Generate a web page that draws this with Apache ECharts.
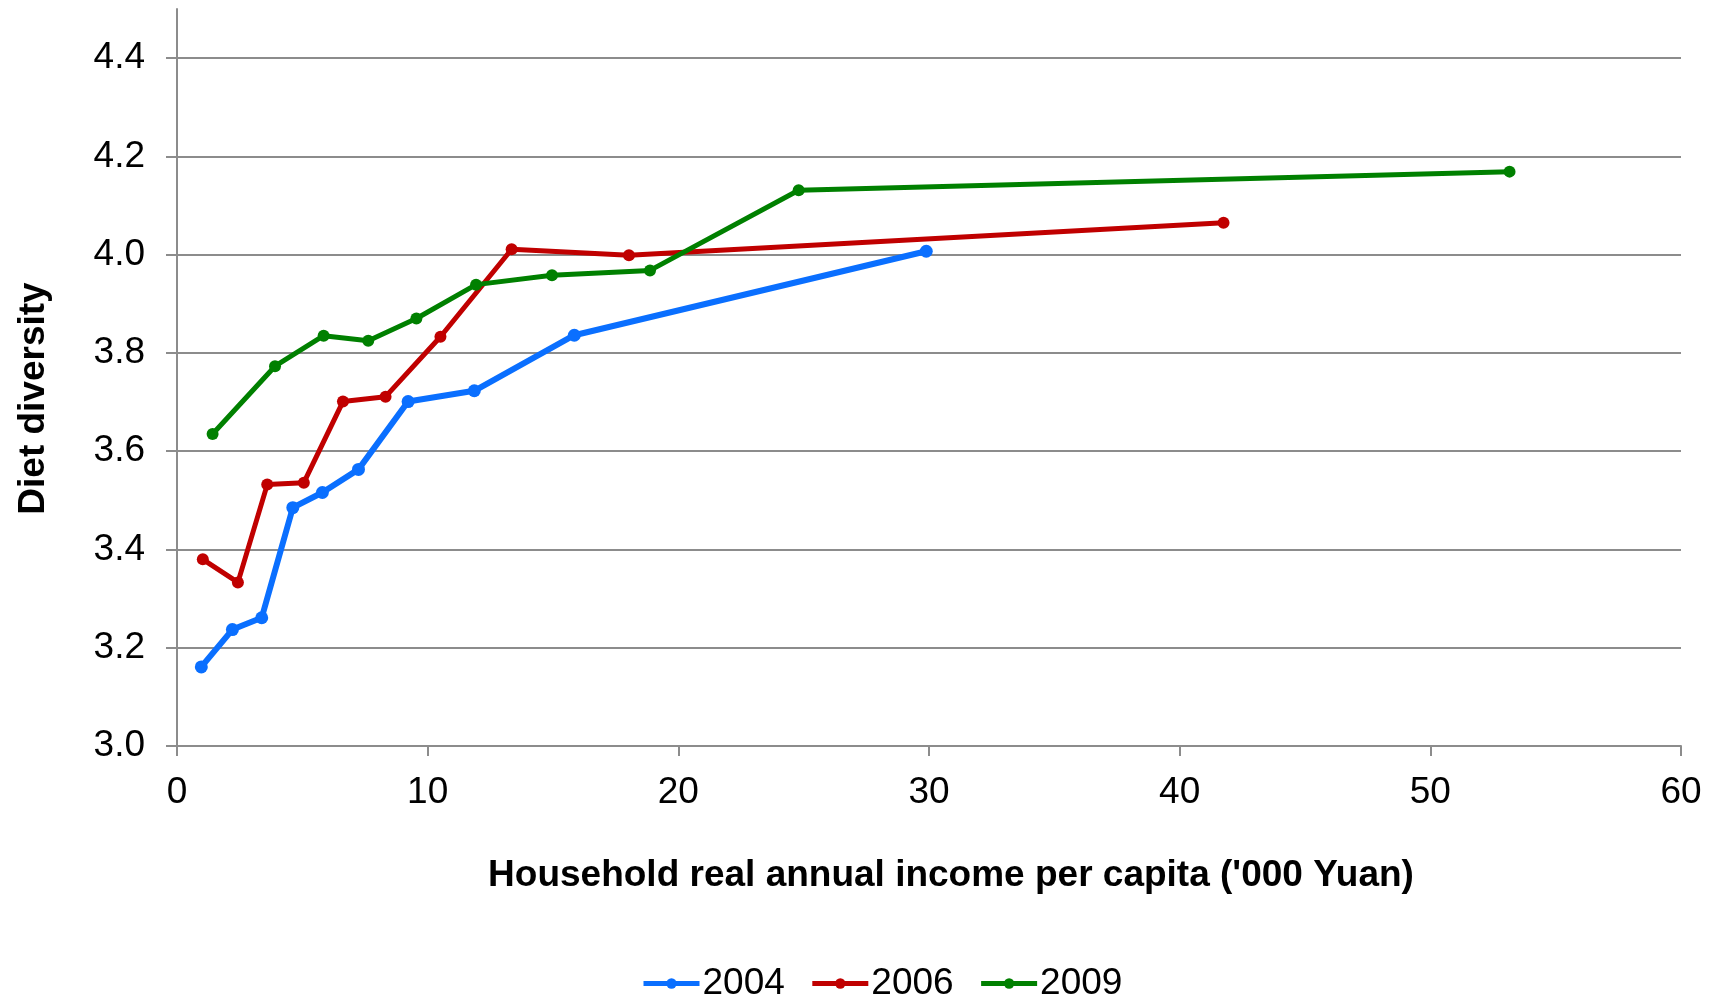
<!DOCTYPE html>
<html>
<head>
<meta charset="utf-8">
<script src="https://cdn.jsdelivr.net/npm/echarts@6/dist/echarts.min.js"></script>
<style>
  html, body { margin: 0; padding: 0; background: #fff; }
  #chart { width: 1713px; height: 999px; }
</style>
</head>
<body>
<div id="chart"></div>
<script>
// income ('000 Yuan) and diet diversity
const inc2004 = [0.97, 2.21, 3.38, 4.62, 5.80, 7.24, 9.22, 11.86, 15.85, 29.89];
const div2004 = [3.161, 3.237, 3.261, 3.485, 3.516, 3.563, 3.701, 3.723, 3.836, 4.007];
const inc2006 = [1.03, 2.43, 3.60, 5.06, 6.62, 8.32, 10.51, 13.35, 18.03, 41.75];
const div2006 = [3.380, 3.333, 3.532, 3.536, 3.701, 3.711, 3.833, 4.011, 3.999, 4.065];
const inc2009 = [1.42, 3.91, 5.85, 7.63, 9.55, 11.93, 14.96, 18.87, 24.80, 53.16];
const div2009 = [3.635, 3.773, 3.835, 3.825, 3.870, 3.939, 3.958, 3.968, 4.131, 4.169];
const yTicks = [3.0, 3.2, 3.4, 3.6, 3.8, 4.0, 4.2, 4.4];

const font = '"Liberation Sans", Arial, sans-serif';

function pairs(xs, ys) {
  return xs.map((x, i) => [x, ys[i]]);
}

const chart = echarts.init(document.getElementById('chart'));

const mkSeries = (name, data, color, width, size) => ({
  name: name,
  type: 'line',
  data: data,
  symbol: 'circle',
  symbolSize: size,
  showAllSymbol: true,
  lineStyle: { color: color, width: width },
  itemStyle: { color: color },
  emphasis: { disabled: true },
  animation: false
});

chart.setOption({
  backgroundColor: '#fff',
  textStyle: { fontFamily: font },
  grid: {
    left: 177,
    right: 32,
    top: 9,
    bottom: 253,
    containLabel: false
  },
  legend: {
    data: ['2004', '2006', '2009'],
    bottom: -8,
    left: 636,
    itemWidth: 56,
    itemHeight: 13,
    itemGap: 25,
    lineStyle: { width: 5 },
    textStyle: { fontSize: 37, color: '#000', fontFamily: font, padding: [0, 0, 0, -2] }
  },
  xAxis: {
    type: 'value',
    min: 0,
    max: 60,
    interval: 10,
    name: "Household real annual income per capita ('000 Yuan)",
    nameLocation: 'middle',
    nameGap: 111,
    nameTextStyle: { fontSize: 37, fontWeight: 'bold', color: '#000', fontFamily: font, padding: [0, 0, 0, 44] },
    axisLine: { show: true, lineStyle: { color: '#8c8c8c', width: 2 } },
    axisTick: { show: true, length: 10, lineStyle: { color: '#8c8c8c', width: 2 } },
    axisLabel: { fontSize: 37, color: '#000', margin: 28 },
    splitLine: { show: false }
  },
  yAxis: {
    type: 'value',
    min: 3.0,
    max: 4.5,
    interval: 0.2,
    name: 'Diet diversity',
    nameLocation: 'middle',
    nameGap: 125,
    nameTextStyle: { fontSize: 37, fontWeight: 'bold', color: '#000', fontFamily: font, padding: [0, 42, 0, 0] },
    axisLine: { show: true, lineStyle: { color: '#8c8c8c', width: 2 } },
    axisTick: { show: true, length: 11, customValues: yTicks, lineStyle: { color: '#8c8c8c', width: 2 } },
    axisLabel: {
      fontSize: 37,
      color: '#000',
      margin: 32,
      customValues: yTicks,
      formatter: v => v.toFixed(1)
    },
    splitLine: { show: true, lineStyle: { color: '#8c8c8c', width: 2 } }
  },
  series: [
    mkSeries('2004', pairs(inc2004, div2004), '#0a6fff', 6, 13),
    mkSeries('2006', pairs(inc2006, div2006), '#c00000', 5, 12),
    mkSeries('2009', pairs(inc2009, div2009), '#008000', 5, 12)
  ]
});
</script>
</body>
</html>
